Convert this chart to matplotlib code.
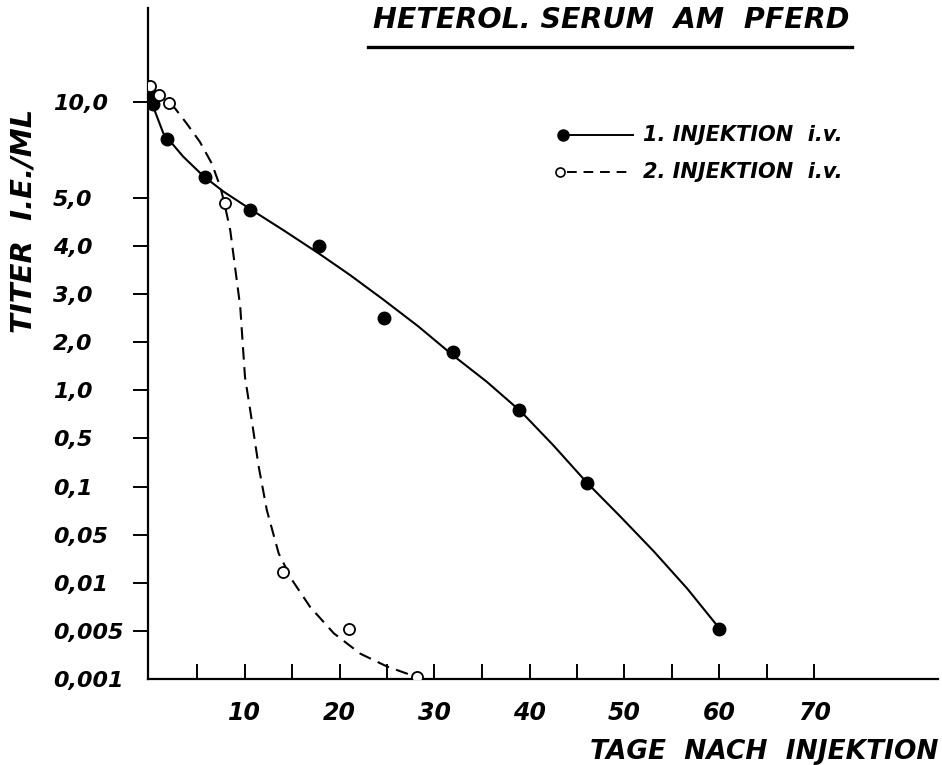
import numpy as np
import matplotlib
matplotlib.use("Agg")
import matplotlib.pyplot as plt
from matplotlib.lines import Line2D

# hand drawn titer axis: every labelled value gets one equal step (10,0 sits two steps above 5,0)
titer_ticks = [0.001, 0.005, 0.01, 0.05, 0.1, 0.5, 1.0, 2.0, 3.0, 4.0, 5.0, 10.0]
titer_labels = ["0,001", "0,005", "0,01", "0,05", "0,1", "0,5", "1,0", "2,0",
                "3,0", "4,0", "5,0", "10,0"]
tick_steps = [0, 1, 2, 3, 4, 5, 6, 7, 8, 9, 10, 12]

day_ticks = [10, 20, 30, 40, 50, 60, 70]
day_minor = [5, 15, 25, 35, 45, 55, 65]

# measured points
days_1 = [0.0, 0.4, 1.8, 5.8, 10.6, 17.8, 24.7, 31.9, 38.9, 46.0, 60.0]
titer_1 = [10.45, 9.9, 8.05, 6.1, 4.75, 4.0, 2.5, 1.8, 0.8, 0.13, 0.0052]

days_2 = [0.0, 1.0, 2.0, 7.9, 14.0, 21.0, 28.2]
titer_2 = [10.8, 10.35, 9.95, 4.9, 0.019, 0.0052, 0.0012]

# hand drawn curves
curve_days_1 = [0.0, 1.45, 3.55, 5.65, 7.8, 10.6, 14.1, 17.8, 21.1, 24.6, 28.3, 32.0,
                35.5, 39.1, 42.5, 46.1, 49.6, 53.1, 56.6, 60.0]
curve_titer_1 = [10.25, 8.37, 7.15, 6.15, 5.33, 4.77, 4.33, 3.85, 3.40, 2.89, 2.33, 1.72,
                 1.18, 0.78, 0.444, 0.128, 0.0685, 0.036, 0.0094, 0.00525]

curve_days_2 = [2.2, 2.7, 3.9, 5.3, 6.55, 7.45, 7.85, 8.5, 9.0, 9.55, 10.05, 10.6, 11.5,
                12.35, 13.6, 15.0, 16.9, 19.4, 22.2, 25.0, 27.8]
curve_titer_2 = [9.9, 9.65, 8.88, 7.92, 6.8, 5.58, 4.92, 4.33, 3.57, 2.74, 1.28, 0.795,
                 0.264, 0.0755, 0.0344, 0.0124, 0.0075, 0.0048, 0.0031, 0.00204, 0.00125]

vals_ext = np.array(titer_ticks + [20.0])
steps_ext = np.array(tick_steps + [16])


def fwd(v):
    return np.interp(v, vals_ext, steps_ext)


def inv(s):
    return np.interp(s, steps_ext, vals_ext)


plt.rcParams["font.family"] = ["DejaVu Sans"]
plt.rcParams["font.weight"] = "bold"
plt.rcParams["font.style"] = "oblique"

fig = plt.figure(figsize=(9.42, 7.65), dpi=100)
ax = fig.add_axes([147.6 / 942, 1 - 679 / 765, (938 - 147.6) / 942, (679 - 8) / 765])

ax.set_yscale("function", functions=(fwd, inv))
ax.set_xlim(-0.2, 83.0)
ax.set_ylim(0.001, inv(13.95))

ax.plot(curve_days_1, curve_titer_1, color="black", lw=1.5, solid_joinstyle="round")
ax.plot(curve_days_2, curve_titer_2, color="black", lw=1.5, ls=(0, (6.0, 3.6)))
ax.plot(days_1, titer_1, "o", color="black", ms=9, zorder=3)
ax.plot(days_2, titer_2, "o", mfc="white", mec="black", mew=1.3, ms=8, zorder=4)

for s in ["top", "right"]:
    ax.spines[s].set_visible(False)
for s in ["left", "bottom"]:
    ax.spines[s].set_linewidth(1.6)

ax.set_yticks(titer_ticks)
ax.set_yticklabels(titer_labels)
ax.yaxis.set_minor_locator(plt.NullLocator())
ax.tick_params(axis="y", direction="out", length=11, width=1.4, pad=57, labelsize=16)
for lbl in ax.get_yticklabels():
    lbl.set_horizontalalignment("left")
ax.yaxis.get_major_ticks()[0].tick1line.set_visible(False)

ax.set_xticks(day_ticks)
ax.set_xticks(day_minor, minor=True)
ax.tick_params(axis="x", which="both", direction="in", length=11, width=1.4)
ax.tick_params(axis="x", which="major", pad=16, labelsize=17)

fig.text(24 / 942, 1 - 221 / 765, "TITER  I.E./ML", rotation=90, ha="center", va="center",
         fontsize=21)
fig.text(938 / 942, 1 - 752 / 765, "TAGE  NACH  INJEKTION", ha="right", va="center",
         fontsize=19)

fig.text(611 / 942, 1 - 20 / 765, "HETEROL. SERUM  AM  PFERD", ha="center", va="center",
         fontsize=20.5)
fig.add_artist(Line2D([368 / 942, 852 / 942], [1 - 47 / 765, 1 - 47 / 765],
                      transform=fig.transFigure, color="black", lw=2.4))

# legend, drawn like the sheet: marker at the left end of the line
leg_y1 = 1 - 135 / 765
leg_y2 = 1 - 172 / 765
fig.add_artist(Line2D([566 / 942, 633 / 942], [leg_y1, leg_y1], transform=fig.transFigure,
                      color="black", lw=1.4))
fig.add_artist(Line2D([563 / 942], [leg_y1], transform=fig.transFigure, marker="o",
                      color="black", ms=8))
fig.add_artist(Line2D([567 / 942, 633 / 942], [leg_y2, leg_y2], transform=fig.transFigure,
                      color="black", lw=1.4, ls=(0, (5.0, 3.5))))
fig.add_artist(Line2D([560 / 942], [leg_y2], transform=fig.transFigure, marker="o",
                      mfc="white", mec="black", mew=1.2, ms=6.5))
fig.text(643 / 942, leg_y1, "1. INJEKTION  i.v.", ha="left", va="center", fontsize=15)
fig.text(643 / 942, leg_y2, "2. INJEKTION  i.v.", ha="left", va="center", fontsize=15)

fig.savefig("out.png", dpi=100)
